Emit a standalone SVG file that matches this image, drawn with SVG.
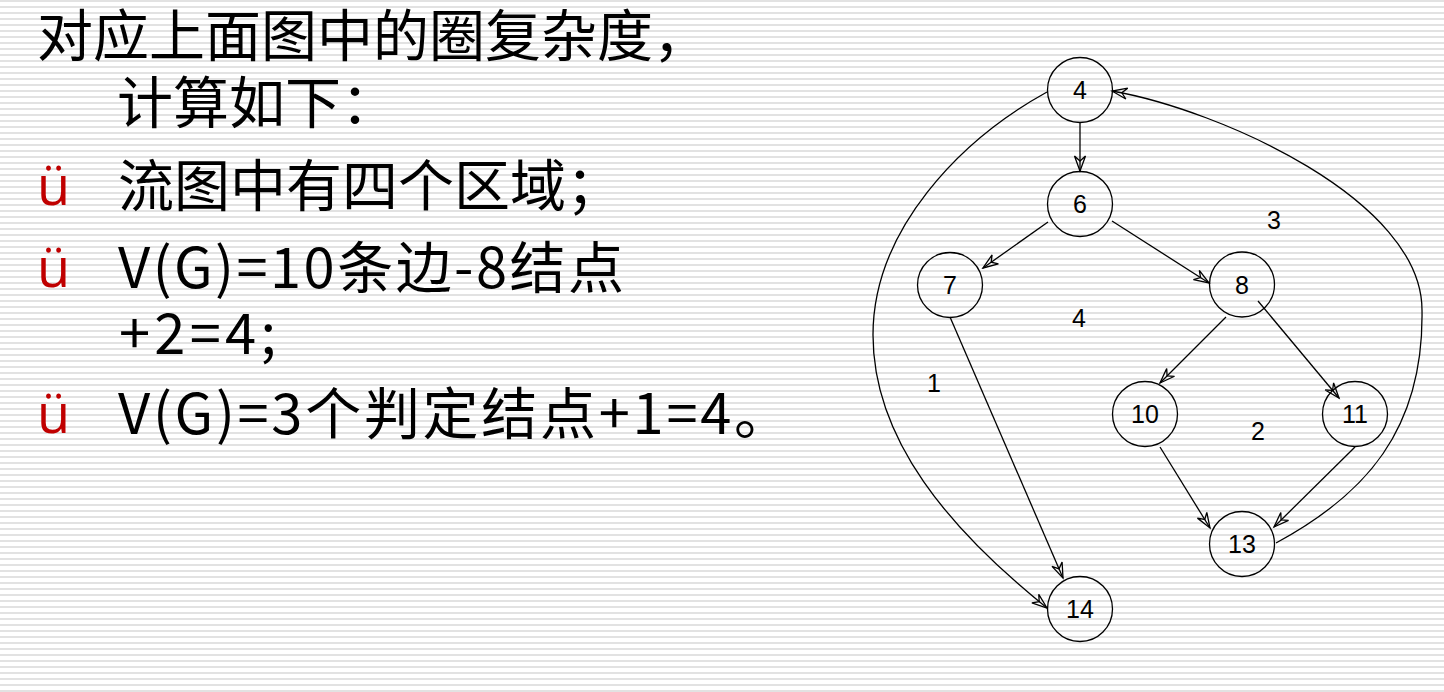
<svg xmlns="http://www.w3.org/2000/svg" width="1444" height="692" viewBox="0 0 1444 692">
<defs>
<pattern id="stripes" x="0" y="0" width="12" height="6" patternUnits="userSpaceOnUse">
<rect x="0" y="0" width="12" height="6" fill="#ffffff"/>
<rect x="0" y="0" width="12" height="2" fill="#e2e2e2"/>
</pattern>
<marker id="arr" markerUnits="userSpaceOnUse" markerWidth="20" markerHeight="16" viewBox="-17 -8 20 16" refX="0" refY="0" orient="auto">
<path d="M0,0 L-15,-5.5 L-10,0 L-15,5.5 Z" fill="none" stroke="#000" stroke-width="1.3" stroke-linejoin="miter"/>
</marker>
<style>
.main{font-family:"Noto Sans CJK SC","Microsoft YaHei",sans-serif;font-size:56px;fill:#000}
.bul{font-family:"Open Sans","DejaVu Sans",sans-serif;font-size:54px;fill:#c00000}
.node circle{fill:none;stroke:#000;stroke-width:1.3}
.lbl{font-family:"Liberation Sans",Arial,sans-serif;font-size:25px;fill:#000;text-anchor:middle}
.edge{fill:none;stroke:#000;stroke-width:1.3;marker-end:url(#arr)}
</style>
</defs>
<rect x="0" y="0" width="1444" height="692" fill="url(#stripes)"/>

<g id="text-block">
<text class="main" x="37" y="56">对应上面图中的圈复杂度，</text>
<text class="main" x="117" y="123">计算如下：</text>
<text class="bul" x="37" y="205">ü</text>
<text class="main" x="118" y="206">流图中有四个区域；</text>
<text class="bul" x="37" y="287">ü</text>
<text class="main" x="118" y="288" textLength="506" lengthAdjust="spacing">V(G)=10条边-8结点</text>
<text class="main" x="119" y="354" textLength="157" lengthAdjust="spacing">+2=4;</text>
<text class="bul" x="37" y="433">ü</text>
<text class="main" x="118" y="434" textLength="672" lengthAdjust="spacing">V(G)=3个判定结点+1=4。</text>
</g>

<g id="connectors">
<line class="edge" x1="1080" y1="122" x2="1080" y2="171"/>
<line class="edge" x1="1048" y1="222" x2="983" y2="268"/>
<line class="edge" x1="1112" y1="221" x2="1209" y2="283"/>
<line class="edge" x1="1226" y1="317" x2="1160" y2="383"/>
<line class="edge" x1="1258" y1="301" x2="1339" y2="398"/>
<line class="edge" x1="950" y1="317" x2="1063" y2="578"/>
<line class="edge" x1="1160" y1="447" x2="1210" y2="528"/>
<line class="edge" x1="1355" y1="447" x2="1274" y2="527"/>
<path class="edge" d="M1047,92 C960,140 873,230 873,335 C873,440 950,530 1047,608"/>
<path class="edge" d="M1276,543 C1365,495 1424,430 1422,310 C1422,200 1220,110 1112,91"/>
</g>

<g id="node-4" class="node"><circle cx="1080" cy="90" r="32.5"/><text class="lbl" x="1080" y="99">4</text></g>
<g id="node-6" class="node"><circle cx="1080" cy="204" r="32.5"/><text class="lbl" x="1080" y="213">6</text></g>
<g id="node-7" class="node"><circle cx="950" cy="285" r="32.5"/><text class="lbl" x="950" y="294">7</text></g>
<g id="node-8" class="node"><circle cx="1242" cy="284.5" r="32.5"/><text class="lbl" x="1242" y="293.5">8</text></g>
<g id="node-10" class="node"><circle cx="1145" cy="414" r="32.5"/><text class="lbl" x="1145" y="423">10</text></g>
<g id="node-11" class="node"><circle cx="1355" cy="414" r="32.5"/><text class="lbl" x="1355" y="423">11</text></g>
<g id="node-13" class="node"><circle cx="1242" cy="544" r="32.5"/><text class="lbl" x="1242" y="553">13</text></g>
<g id="node-14" class="node"><circle cx="1080" cy="609" r="32.5"/><text class="lbl" x="1080" y="618">14</text></g>

<g id="regions">
<text class="lbl" x="1274" y="229">3</text>
<text class="lbl" x="1079" y="327">4</text>
<text class="lbl" x="934" y="392">1</text>
<text class="lbl" x="1258" y="440">2</text>
</g>
</svg>
